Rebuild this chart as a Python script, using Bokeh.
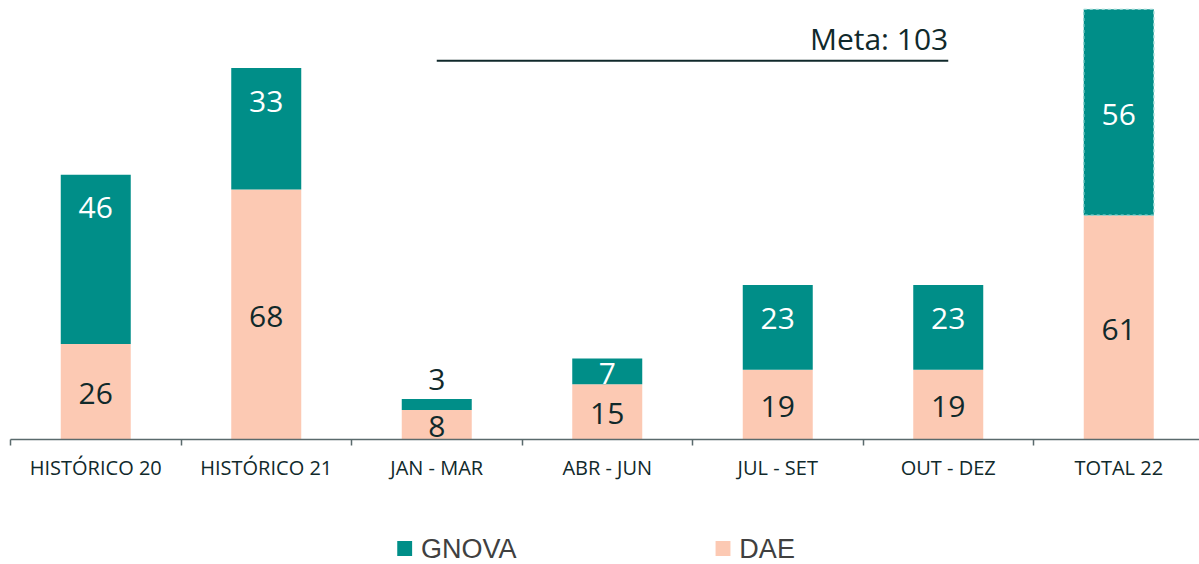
from bokeh.plotting import figure
from bokeh.layouts import column
from bokeh.models import ColumnDataSource, FixedTicker, LinearAxis, Range1d
from bokeh.core.properties import value
from bokeh.embed import file_html
from bokeh.resources import INLINE

# ---------------- data ----------------
categories = ["HISTÓRICO 20", "HISTÓRICO 21", "JAN - MAR", "ABR - JUN",
              "JUL - SET", "OUT - DEZ", "TOTAL 22"]
dae = [26, 68, 8, 15, 19, 19, 61]
gnova = [46, 33, 3, 7, 23, 23, 56]
meta_value = 103
meta_label = "Meta: 103"
meta_start = "JAN - MAR"
meta_end = "OUT - DEZ"
series_names = ["GNOVA", "DAE"]

# ---------------- style ----------------
TEAL = "#008E88"
SALMON = "#FCC9B3"
DARK = "#10292B"
FONT = "Open Sans"
CAT_PX = 170.5
# label placement mode per GNOVA segment (style, not data)
gnova_mode = ["end", "end", "above", "center", "end", "end", "center"]

n = len(categories)
xs = [i + 0.5 for i in range(n)]
tops = [d + g for d, g in zip(dae, gnova)]

MAIN_H = 515
p = figure(width=1199, height=MAIN_H, output_backend="svg", toolbar_location=None,
           x_range=Range1d(0, 1189 / CAT_PX), y_range=Range1d(0, 117.2),
           x_axis_type=None, y_axis_type=None,
           min_border_left=10, min_border_right=0, min_border_top=8,
           min_border_bottom=MAIN_H - 439)
p.outline_line_color = None
p.background_fill_color = "white"
p.border_fill_color = "white"

src = ColumnDataSource(dict(x=xs, dae=dae, gnova=gnova, top=tops))
tot_idx = [i for i in range(n) if categories[i] == "TOTAL 22"]

W = 70 / CAT_PX
p.vbar(x="x", bottom=0, top="dae", width=W, source=src,
       fill_color=SALMON, line_color=None)
p.vbar(x="x", bottom="dae", top="top", width=W, source=src,
       fill_color=TEAL, line_color=None)
# dashed outline on the total bar's GNOVA segment
tsrc = ColumnDataSource(dict(x=[xs[i] for i in tot_idx],
                             b=[dae[i] for i in tot_idx],
                             t=[tops[i] for i in tot_idx]))
p.vbar(x="x", bottom="b", top="t", width=W, source=tsrc, fill_color=None,
       line_color="#8fd3cf", line_width=1.5, line_dash="3 3")

# ---------------- value labels ----------------
dl = ColumnDataSource(dict(x=xs, y=[d / 2 for d in dae], t=[str(d) for d in dae]))
p.text(x="x", y="y", text="t", source=dl, text_font=value(FONT),
       text_font_size="30px", text_color=DARK, text_align="center",
       text_baseline="middle", y_offset=2)

gx, gy, gt, goff, gcol = [], [], [], [], []
for i in range(n):
    m = gnova_mode[i]
    gx.append(xs[i]); gt.append(str(gnova[i]))
    if m == "end":
        gy.append(tops[i]); goff.append(33); gcol.append("white")
    elif m == "center":
        gy.append(dae[i] + gnova[i] / 2); goff.append(2); gcol.append("white")
    else:
        gy.append(tops[i]); goff.append(-20); gcol.append(DARK)
gl = ColumnDataSource(dict(x=gx, y=gy, t=gt, off=goff, c=gcol))
p.text(x="x", y="y", text="t", source=gl, text_font=value(FONT),
       text_font_size="30px", text_color="c", text_align="center",
       text_baseline="middle", y_offset="off")

# ---------------- meta line ----------------
x0 = xs[categories.index(meta_start)]
x1 = xs[categories.index(meta_end)]
p.line(x=[x0, x1], y=[meta_value, meta_value], line_color=DARK, line_width=2)
p.text(x=[x1], y=[meta_value], text=[meta_label], text_font=value(FONT),
       text_font_size="30px", text_color=DARK, text_align="right",
       text_baseline="middle", y_offset=-22)

# ---------------- axis ----------------
ax = LinearAxis(ticker=FixedTicker(ticks=xs, minor_ticks=list(range(n + 1))),
                major_label_overrides={x: c for x, c in zip(xs, categories)})
ax.major_tick_out = 0
ax.major_tick_in = 0
ax.minor_tick_out = 6
ax.minor_tick_in = 0
ax.minor_tick_line_color = "#5a6a6c"
ax.minor_tick_line_width = 1.5
ax.axis_line_color = "#5a6a6c"
ax.axis_line_width = 1.5
ax.major_label_text_font = FONT
ax.major_label_text_font_size = "20px"
ax.major_label_text_color = DARK
ax.major_label_standoff = 8
p.add_layout(ax, "below")

# ---------------- legend strip ----------------
LEG_H = 564 - MAIN_H
lg = figure(width=1199, height=LEG_H, output_backend="svg", toolbar_location=None,
            x_range=Range1d(0, 1199), y_range=Range1d(0, LEG_H),
            x_axis_type=None, y_axis_type=None,
            min_border_left=0, min_border_right=0, min_border_top=0,
            min_border_bottom=0)
lg.outline_line_color = None
lg.grid.visible = False
leg_x = [397.5, 718.5]
leg_y = 564 - 548
lg.rect(x=leg_x, y=[leg_y] * 2, width=15, height=15,
        fill_color=[TEAL, SALMON], line_color=None)
lg.text(x=[lx + 16.5 for lx in leg_x], y=[leg_y] * 2, text=series_names,
        text_font=value("Liberation Sans"), text_font_size="27px",
        text_color="#404040", text_align="left", text_baseline="middle",
        y_offset=0)

open("out.html", "w").write(file_html(column(p, lg, spacing=0), INLINE))
